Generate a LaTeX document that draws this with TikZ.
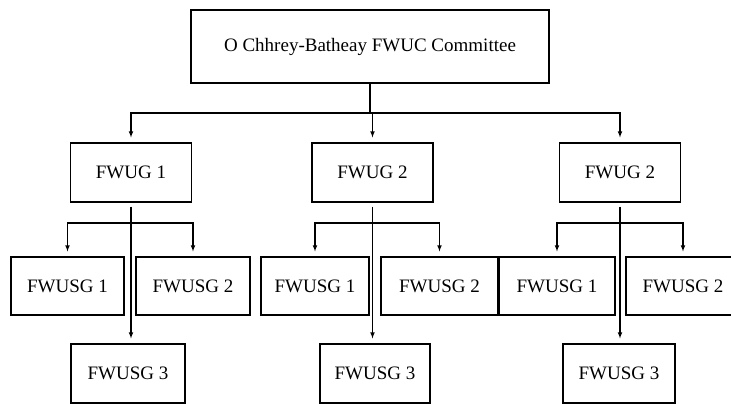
\documentclass[tikz,border=0pt]{standalone}
\usepackage{fontspec}
\setmainfont{Liberation Serif}

\begin{document}
\begin{tikzpicture}[x=1pt,y=-1pt,
    box/.style={draw,line width=1.1pt,inner sep=0pt,font=\fontsize{19}{22}\selectfont},
    ugbox/.style={box,minimum width=121,minimum height=59},
    sgbox/.style={box,minimum height=58},
    link/.style={line width=1.1pt},
    arrow/.style={link,-latex,shorten >=5pt}]
    \useasboundingbox (0,0) rectangle (731,404);

    \coordinate (toplevel) at (0,113);
    \coordinate (sublevel) at (0,223);

    \node[box,minimum width=358,minimum height=73] at (370,46.5) (FWUC) {O Chhrey-Batheay FWUC Committee};

    \node[ugbox] at (131,172.5) (UG1) {FWUG 1};
    \node[ugbox] at (372.5,172.5) (UG2) {FWUG 2};
    \node[ugbox] at (620,172.5) (UG3) {FWUG 2};

    \node[sgbox,minimum width=113] at (67.5,286) (SG11) {FWUSG 1};
    \node[sgbox,minimum width=114] at (193,286) (SG12) {FWUSG 2};
    \node[sgbox,minimum width=114,minimum height=59] at (128,373.5) (SG13) {FWUSG 3};

    \node[sgbox,minimum width=108] at (315,286) (SG21) {FWUSG 1};
    \node[sgbox,minimum width=117] at (439.5,286) (SG22) {FWUSG 2};
    \node[sgbox,minimum width=110,minimum height=59] at (375,373.5) (SG23) {FWUSG 3};

    \node[sgbox,minimum width=116] at (557,286) (SG31) {FWUSG 1};
    \node[sgbox,minimum width=114] at (683,286) (SG32) {FWUSG 2};
    \node[sgbox,minimum width=112,minimum height=59] at (619,373.5) (SG33) {FWUSG 3};

    % committee to groups
    \coordinate (J0) at (FWUC.south |- toplevel);
    \draw[link] (FWUC.south) -- (J0);
    \draw[arrow] (J0) -| (UG1.north);
    \draw[arrow] (J0) -| (UG2.north);
    \draw[arrow] (J0) -| (UG3.north);

    % groups to sub-groups
    \coordinate (J1) at (UG1.south |- sublevel);
    \draw[arrow,shorten <=4pt] (UG1.south) -- (UG1.south |- SG13.north);
    \draw[arrow] (J1) -| (SG11.north);
    \draw[arrow] (J1) -| (SG12.north);

    \coordinate (J2) at (UG2.south |- sublevel);
    \draw[arrow,shorten <=4pt] (UG2.south) -- (UG2.south |- SG23.north);
    \draw[arrow] (J2) -| (SG21.north);
    \draw[arrow] (J2) -| (SG22.north);

    \coordinate (J3) at (UG3.south |- sublevel);
    \draw[arrow,shorten <=4pt] (UG3.south) -- (UG3.south |- SG33.north);
    \draw[arrow] (J3) -| (SG31.north);
    \draw[arrow] (J3) -| (SG32.north);
\end{tikzpicture}
\end{document}
